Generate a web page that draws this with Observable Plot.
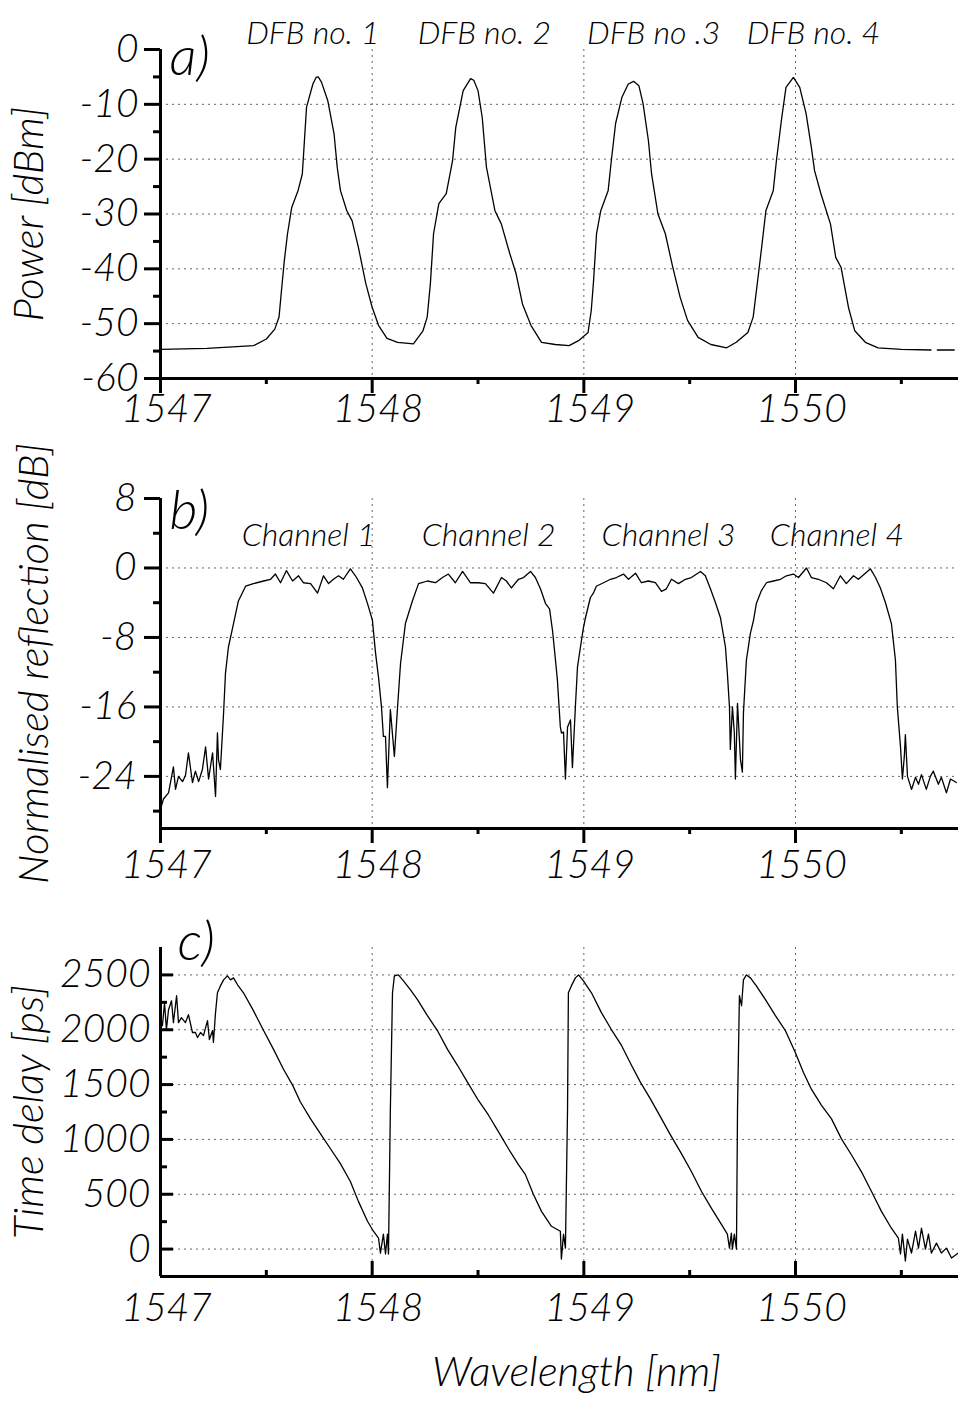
<!DOCTYPE html>
<html><head><meta charset="utf-8">
<script src="https://cdn.jsdelivr.net/npm/d3@7"></script>
<script src="https://cdn.jsdelivr.net/npm/@observablehq/plot@0.6"></script>
<style>
body{margin:0;background:#fff;}
#chart svg{display:block;}
</style></head><body><div id="chart"></div>
<script>
// ---- shared axis values ----
const xTicks = [1547, 1548, 1549, 1550];
const xMinorTicks = [1547.5, 1548.5, 1549.5, 1550.5];
const xGridTicks = [1548, 1549, 1550];
const xDomain = [1547, 1550.77];

// ---- panel a: DFB laser spectra ----
const aWavelength = [1547.00,1547.22,1547.44,1547.50,1547.54,1547.56,1547.57,1547.585,1547.60,1547.62,1547.65,1547.67,1547.68,1547.69,1547.72,1547.735,1547.745,1547.76,1547.79,1547.82,1547.835,1547.85,1547.88,1547.905,1547.935,1547.97,1548.00,1548.03,1548.07,1548.12,1548.195,1548.24,1548.26,1548.275,1548.29,1548.315,1548.35,1548.38,1548.395,1548.43,1548.465,1548.48,1548.50,1548.52,1548.54,1548.58,1548.61,1548.65,1548.68,1548.71,1548.75,1548.80,1548.865,1548.93,1548.975,1549.02,1549.035,1549.045,1549.06,1549.08,1549.115,1549.13,1549.15,1549.18,1549.21,1549.235,1549.26,1549.28,1549.305,1549.32,1549.35,1549.385,1549.42,1549.455,1549.49,1549.54,1549.60,1549.675,1549.72,1549.775,1549.80,1549.825,1549.84,1549.86,1549.895,1549.91,1549.935,1549.955,1549.99,1550.02,1550.05,1550.075,1550.09,1550.12,1550.165,1550.19,1550.215,1550.25,1550.28,1550.33,1550.39,1550.50,1550.64,1550.655,1550.67,1550.75];
const aPower = [-54.7,-54.5,-54.0,-52.8,-51.0,-48.8,-44.6,-38.5,-33.6,-28.8,-25.7,-22.7,-16.6,-10.5,-6.3,-5.1,-5.0,-5.9,-9.3,-15.4,-21.5,-25.7,-29.4,-31.2,-36.1,-42.7,-47.0,-50.3,-52.7,-53.4,-53.7,-51.3,-48.8,-42.7,-33.6,-28.1,-26.3,-20.2,-14.2,-7.5,-5.3,-5.6,-7.5,-12.4,-21.5,-29.4,-31.8,-37.2,-40.9,-46.4,-50.3,-53.4,-53.8,-54.0,-53.1,-51.6,-47.6,-42.7,-33.6,-29.4,-25.7,-20.2,-13.5,-8.7,-6.3,-5.8,-6.6,-9.9,-16.6,-22.7,-30.0,-33.6,-39.7,-45.2,-49.4,-52.5,-53.8,-54.4,-53.4,-51.6,-48.8,-40.9,-36.1,-29.4,-25.7,-20.2,-12.4,-6.9,-5.1,-6.9,-11.7,-17.9,-22.1,-26.3,-31.8,-37.9,-39.7,-47.0,-51.3,-53.4,-54.4,-54.7,-54.8,null,-54.8,-54.8];
const aYTicks = [0, -10, -20, -30, -40, -50, -60];
const aYMinor = [-5, -15, -25, -35, -45, -55];
const aGrid = [-10, -20, -30, -40, -50];
const aLabels = ["DFB no. 1", "DFB no. 2", "DFB no .3", "DFB no. 4"];
const aLabelWl = [1547.72, 1548.53, 1549.33, 1550.085];

// ---- panel b: normalised reflection ----
const bWavelength = [1547.000,1547.014,1547.038,1547.061,1547.071,1547.085,1547.104,1547.118,1547.132,1547.151,1547.165,1547.180,1547.198,1547.213,1547.227,1547.246,1547.260,1547.269,1547.274,1547.283,1547.298,1547.307,1547.321,1547.345,1547.368,1547.402,1547.439,1547.487,1547.520,1547.543,1547.567,1547.595,1547.624,1547.652,1547.675,1547.709,1547.742,1547.770,1547.794,1547.817,1547.841,1547.864,1547.897,1547.921,1547.954,1547.978,1548.001,1548.016,1548.030,1548.044,1548.053,1548.063,1548.072,1548.086,1548.101,1548.105,1548.120,1548.134,1548.157,1548.190,1548.219,1548.261,1548.299,1548.332,1548.360,1548.393,1548.427,1548.464,1548.502,1548.535,1548.573,1548.611,1548.634,1548.658,1548.691,1548.715,1548.748,1548.771,1548.795,1548.819,1548.838,1548.852,1548.866,1548.875,1548.889,1548.894,1548.904,1548.913,1548.923,1548.937,1548.946,1548.960,1548.970,1548.984,1548.998,1549.008,1549.031,1549.045,1549.059,1549.093,1549.126,1549.154,1549.187,1549.211,1549.244,1549.272,1549.305,1549.338,1549.367,1549.390,1549.414,1549.447,1549.480,1549.508,1549.551,1549.574,1549.598,1549.622,1549.645,1549.669,1549.678,1549.688,1549.692,1549.702,1549.711,1549.716,1549.726,1549.740,1549.749,1549.754,1549.768,1549.787,1549.801,1549.815,1549.839,1549.863,1549.896,1549.929,1549.957,1549.990,1550.014,1550.052,1550.075,1550.108,1550.146,1550.179,1550.212,1550.240,1550.274,1550.297,1550.330,1550.354,1550.378,1550.401,1550.425,1550.453,1550.472,1550.481,1550.496,1550.505,1550.514,1550.519,1550.529,1550.548,1550.567,1550.581,1550.595,1550.618,1550.637,1550.651,1550.675,1550.689,1550.713,1550.732,1550.760];
const bReflection = [-27.8,-26.6,-25.9,-22.9,-25.5,-24.0,-24.6,-23.9,-21.3,-24.7,-23.4,-24.6,-23.2,-20.6,-24.3,-21.3,-26.3,-19.0,-22.1,-23.2,-16.7,-12.1,-9.1,-6.4,-3.8,-2.1,-1.8,-1.5,-1.3,-0.7,-1.7,-0.3,-1.5,-0.9,-1.7,-1.8,-2.9,-0.9,-1.8,-1.3,-0.9,-1.3,-0.1,-0.9,-2.3,-4.1,-6.0,-9.8,-12.6,-16.0,-19.4,-19.4,-25.3,-16.3,-20.6,-21.7,-16.0,-11.0,-6.4,-3.8,-1.8,-1.5,-1.7,-1.1,-0.7,-1.7,-0.4,-1.7,-1.7,-1.8,-2.9,-1.1,-1.5,-2.3,-1.3,-1.1,-0.4,-1.1,-2.4,-4.1,-4.7,-7.2,-10.6,-12.9,-18.3,-19.0,-18.9,-24.3,-18.3,-17.5,-23.0,-16.0,-11.4,-9.1,-6.9,-5.7,-3.4,-2.9,-2.1,-1.7,-1.3,-1.1,-0.7,-1.3,-0.6,-1.7,-1.5,-1.7,-2.7,-2.4,-1.3,-1.8,-1.3,-1.1,-0.4,-0.9,-2.4,-4.0,-5.7,-9.1,-12.1,-16.0,-20.9,-16.0,-19.0,-24.3,-15.6,-22.1,-23.5,-16.7,-10.6,-7.5,-6.1,-4.1,-2.6,-1.7,-1.5,-1.3,-0.9,-0.7,-1.1,0.0,-1.1,-1.3,-1.7,-2.4,-0.9,-1.8,-0.9,-1.3,-0.6,-0.1,-1.1,-2.3,-4.0,-6.4,-10.6,-16.0,-20.6,-24.3,-21.7,-19.2,-24.0,-25.5,-24.1,-24.9,-23.8,-25.5,-24.0,-23.4,-24.9,-24.1,-25.9,-24.3,-24.7];
const bYTicks = [8, 0, -8, -16, -24];
const bYMinor = [4, -4, -12, -20, -28];
const bGrid = [0, -8, -16, -24];
const bLabels = ["Channel 1", "Channel 2", "Channel 3", "Channel 4"];
const bLabelWl = [1547.70, 1548.55, 1549.40, 1550.195];

// ---- panel c: time delay ----
const cWavelength = [1547.009,1547.019,1547.028,1547.038,1547.052,1547.061,1547.076,1547.085,1547.099,1547.118,1547.132,1547.151,1547.165,1547.175,1547.189,1547.203,1547.222,1547.231,1547.246,1547.250,1547.260,1547.269,1547.283,1547.298,1547.316,1547.331,1547.345,1547.364,1547.392,1547.439,1547.487,1547.534,1547.581,1547.624,1547.661,1547.709,1547.756,1547.803,1547.850,1547.897,1547.935,1547.978,1548.006,1548.030,1548.039,1548.053,1548.063,1548.072,1548.077,1548.086,1548.096,1548.105,1548.124,1548.148,1548.181,1548.214,1548.261,1548.308,1548.356,1548.403,1548.450,1548.502,1548.549,1548.597,1548.644,1548.691,1548.724,1548.762,1548.800,1548.847,1548.889,1548.894,1548.904,1548.913,1548.923,1548.927,1548.941,1548.960,1548.975,1548.998,1549.036,1549.083,1549.130,1549.178,1549.225,1549.267,1549.315,1549.362,1549.409,1549.461,1549.508,1549.556,1549.603,1549.650,1549.678,1549.688,1549.697,1549.702,1549.711,1549.721,1549.726,1549.735,1549.745,1549.754,1549.768,1549.787,1549.815,1549.858,1549.905,1549.952,1549.999,1550.037,1550.075,1550.122,1550.170,1550.217,1550.264,1550.311,1550.359,1550.406,1550.453,1550.486,1550.496,1550.505,1550.519,1550.529,1550.548,1550.567,1550.581,1550.595,1550.614,1550.628,1550.642,1550.666,1550.689,1550.713,1550.737,1550.769];
const cDelay = [2038,2246,2002,2183,2264,2065,2310,2065,2110,2065,2138,1975,1975,1929,1975,1947,2083,1911,1993,1884,2156,2337,2400,2455,2491,2455,2473,2410,2337,2174,1993,1821,1640,1495,1341,1187,1051,915,779,616,435,254,163,100,-36,136,-45,136,-45,1277,2337,2491,2500,2446,2364,2274,2129,1993,1821,1676,1522,1355,1223,1069,915,770,679,498,344,208,163,-91,136,9,1277,2337,2400,2473,2500,2446,2337,2156,2002,1857,1676,1522,1368,1205,1042,870,707,525,371,226,136,9,145,0,136,0,1277,2310,2219,2455,2500,2473,2400,2274,2129,1993,1793,1612,1458,1313,1187,1005,860,707,525,344,190,100,-45,136,-109,91,-36,163,9,190,0,136,-36,54,-36,9,-82,-36];
const cYTicks = [0, 500, 1000, 1500, 2000, 2500];
const cYMinor = [250, 750, 1250, 1750, 2250];
const cGrid = [0, 500, 1000, 1500, 2000, 2500];

const FONT = "Lato, 'Open Sans', sans-serif";

function panel(o) {
  const data = o.wl.map((w, i) => ({wl: w, v: o.val[i]}));
  const dir = o.inward ? -1 : 1;
  const tickStyle = {stroke: "black", strokeWidth: 3, label: null, tickFormat: () => ""};
  const marks = [
    Plot.gridY({ticks: o.grid, stroke: "#555", strokeOpacity: 0.9, strokeDasharray: "2,4", strokeWidth: 1}),
    Plot.gridX({ticks: xGridTicks, stroke: "#555", strokeOpacity: 0.9, strokeDasharray: "2,4", strokeWidth: 1}),
    Plot.line(data, {x: "wl", y: "v", stroke: "black", strokeWidth: 1.3}),
    Plot.ruleX([xDomain[0]], {stroke: "black", strokeWidth: 3}),
    Plot.ruleY([o.yDomain[0]], {stroke: "black", strokeWidth: 3}),
    Plot.axisX({ticks: xTicks, tickSize: 15 * dir, ...tickStyle}),
    Plot.axisX({ticks: xMinorTicks, tickSize: 6 * dir, ...tickStyle}),
    Plot.axisY({ticks: o.yTicks, tickSize: (o.inward ? 13 : 16) * dir, ...tickStyle}),
    Plot.axisY({ticks: o.yMinor, tickSize: 7 * dir, ...tickStyle}),
    Plot.axisX({ticks: xTicks, tickSize: 0, tickPadding: o.xPad, dx: 6, fontSize: 39, label: null, tickFormat: d => String(d), fill: "black"}),
    Plot.axisY({ticks: o.yTicks, tickSize: 0, tickPadding: o.yPad, fontSize: 39, label: null, tickFormat: d => String(d), fill: "black"}),
    Plot.text([o.letter], {text: d => d, frameAnchor: "top-left", textAnchor: "start", lineAnchor: "middle", dx: o.letterDx, dy: o.letterDy, fontSize: 54, fill: "black"}),
    Plot.text([o.yTitle], {text: d => d, frameAnchor: "left", rotate: -90, lineAnchor: "middle", textAnchor: "middle", dx: o.titleDx, fontSize: 42, fill: "black"})
  ];
  if (o.labels) {
    marks.push(Plot.text(o.labels.map((t, i) => ({t, wl: o.labelWl[i], v: o.labelY})), {x: "wl", y: "v", text: "t", lineAnchor: "middle", fontSize: 32, fill: "black"}));
  }
  if (o.xTitle) {
    marks.push(Plot.text([o.xTitle], {text: d => d, frameAnchor: "bottom", lineAnchor: "middle", dy: 96, dx: 17, fontSize: 42, fill: "black"}));
  }
  return Plot.plot({
    width: 958,
    height: o.height,
    marginLeft: 160,
    marginRight: 0,
    marginTop: o.marginTop,
    marginBottom: o.marginBottom,
    x: {domain: xDomain},
    y: {domain: o.yDomain},
    style: {fontFamily: FONT, fontStyle: "italic", fontWeight: 300, color: "black", background: "white", overflow: "visible"},
    marks
  });
}

const root = document.getElementById("chart");
root.append(panel({
  wl: aWavelength, val: aPower, yDomain: [-60, 0], yTicks: aYTicks, yMinor: aYMinor, grid: aGrid,
  height: 440, marginTop: 49, marginBottom: 62, inward: false, xPad: 16, yPad: 22,
  letter: "a)", letterDx: 9, letterDy: 8, yTitle: "Power [dBm]", titleDx: -131,
  labels: aLabels, labelWl: aLabelWl, labelY: 2.8
}));
root.append(panel({
  wl: bWavelength, val: bReflection, yDomain: [-30, 8], yTicks: bYTicks, yMinor: bYMinor, grid: bGrid,
  height: 460, marginTop: 58, marginBottom: 72, inward: false, xPad: 22, yPad: 24,
  letter: "b)", letterDx: 9, letterDy: 13, yTitle: "Normalised reflection [dB]", titleDx: -126,
  labels: bLabels, labelWl: bLabelWl, labelY: 3.7
}));
root.append(panel({
  wl: cWavelength, val: cDelay, yDomain: [-250, 2750], yTicks: cYTicks, yMinor: cYMinor, grid: cGrid,
  height: 507, marginTop: 47, marginBottom: 131, inward: true, xPad: 17, yPad: 10,
  letter: "c)", letterDx: 17, letterDy: -5, yTitle: "Time delay [ps]", titleDx: -131,
  xTitle: "Wavelength [nm]"
}));
</script></body></html>
